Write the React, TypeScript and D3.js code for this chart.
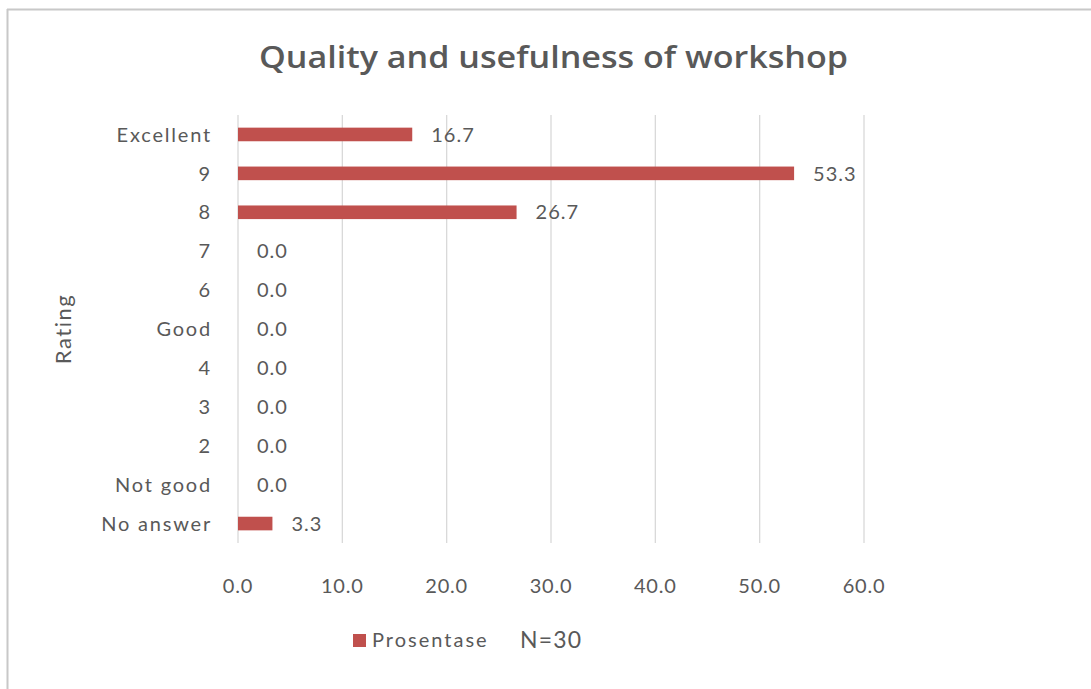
import React from "react";
import * as d3 from "d3";

const categories = ["Excellent", "9", "8", "7", "6", "Good", "4", "3", "2", "Not good", "No answer"];
const values = [16.7, 53.3, 26.7, 0.0, 0.0, 0.0, 0.0, 0.0, 0.0, 0.0, 3.3];
const xTicks = [0, 10, 20, 30, 40, 50, 60];
const title = "Quality and usefulness of workshop";
const seriesName = "Prosentase";
const note = "N=30";
const yTitle = "Rating";

const W = 1091;
const H = 689;
const FONT = "Lato, 'Open Sans', sans-serif";
const TEXT = "#595959";
const BAR = "#c0504d";
const GRID = "#d9d9d9";

export default function App() {
  const x = d3.scaleLinear().domain([0, 60]).range([238, 864]);
  const y = d3
    .scaleBand<string>()
    .domain(categories)
    .range([115, 543])
    .paddingInner(0.65)
    .paddingOuter(0.325);
  const fmt = d3.format(".1f");

  return (
    <svg
      width={W}
      height={H}
      style={{ position: "absolute", left: 0, top: 0, background: "#fff" }}
      fontFamily={FONT}
    >
      <rect x={0} y={0} width={W} height={H} fill="#fff" />
      {/* frame */}
      <line x1={7} y1={9.5} x2={W} y2={9.5} stroke="#c8c8c8" strokeWidth={2} />
      <line x1={7.5} y1={9} x2={7.5} y2={H} stroke="#c8c8c8" strokeWidth={2} />

      <text
        x={553.5}
        y={68}
        textAnchor="middle"
        fontSize={31}
        fontWeight={600}
        fontFamily="'Open Sans', sans-serif"
        fill={TEXT}
        textLength={589}
        lengthAdjust="spacingAndGlyphs"
      >
        {title}
      </text>

      {/* gridlines */}
      {xTicks.map((t) => (
        <line
          key={"g" + t}
          x1={x(t)}
          x2={x(t)}
          y1={115}
          y2={543}
          stroke={GRID}
          strokeWidth={1.3}
        />
      ))}

      {/* bars */}
      {categories.map((c, i) => (
        <rect
          key={"b" + c}
          x={x(0)}
          y={y(c)!}
          width={x(values[i]) - x(0)}
          height={y.bandwidth()}
          fill={BAR}
        />
      ))}

      {/* value labels */}
      {categories.map((c, i) => (
        <text
          key={"v" + c}
          x={x(values[i]) + 19}
          y={y(c)! + y.bandwidth() / 2}
          dy="0.36em"
          fontSize={20}
          letterSpacing={1}
          fill={TEXT}
        >
          {fmt(values[i])}
        </text>
      ))}

      {/* category labels */}
      {categories.map((c) => (
        <text
          key={"c" + c}
          x={212}
          y={y(c)! + y.bandwidth() / 2}
          dy="0.36em"
          textAnchor="end"
          fontSize={20}
          letterSpacing={1.8}
          fill={TEXT}
        >
          {c}
        </text>
      ))}

      {/* x tick labels */}
      {xTicks.map((t) => (
        <text
          key={"t" + t}
          x={x(t)}
          y={586}
          dy="0.36em"
          textAnchor="middle"
          fontSize={20}
          letterSpacing={0.8}
          fill={TEXT}
        >
          {fmt(t)}
        </text>
      ))}

      {/* y title */}
      <text
        transform={`translate(71,329) rotate(-90)`}
        textAnchor="middle"
        fontSize={22}
        letterSpacing={1.5}
        fill={TEXT}
      >
        {yTitle}
      </text>

      {/* legend */}
      <rect x={353} y={634} width={13} height={13} fill={BAR} />
      <text x={372} y={647} fontSize={20} letterSpacing={2} fill={TEXT}>
        {seriesName}
      </text>
      <text x={520} y={648} fontSize={23} fill={TEXT} letterSpacing={1.2}>
        {note}
      </text>
    </svg>
  );
}
